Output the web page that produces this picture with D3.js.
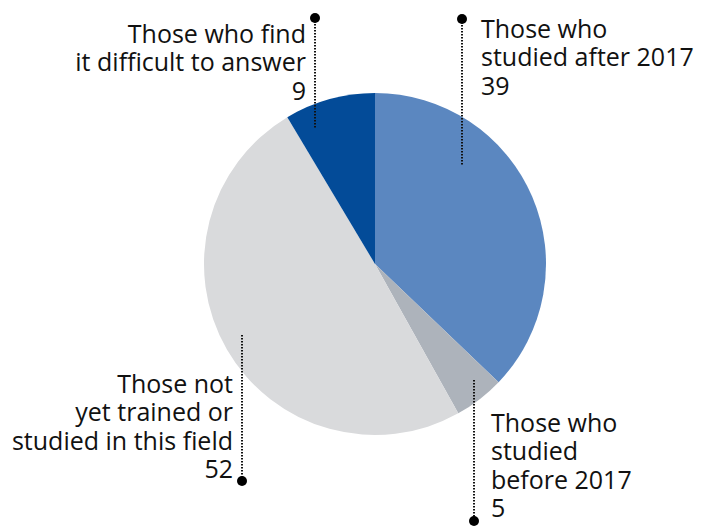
<!DOCTYPE html>
<html>
<head>
<meta charset="utf-8">
<script src="https://cdn.jsdelivr.net/npm/d3@7"></script>
<style>
  body { margin: 0; background: #fff; }
  text { font-family: "Open Sans", "Noto Sans", sans-serif; font-size: 25px; fill: #111; }
</style>
</head>
<body>
<script>
// slice data, clockwise from 12 o'clock
var categories = ["Those who studied after 2017", "Those who studied before 2017", "Those not yet trained or studied in this field", "Those who find it difficult to answer"];
var values = [39, 5, 52, 9];
var colors = ["#5b87c0", "#adb3bb", "#d9dadc", "#034b98"];
var labelLines = [
    ["Those who", "studied after 2017", "39"],
    ["Those who", "studied", "before 2017", "5"],
    ["Those not", "yet trained or", "studied in this field", "52"],
    ["Those who find", "it difficult to answer", "9"]
];

var width = 707, height = 526;
var cx = 375, cy = 264, radius = 171;

var svg = d3.select("body")
    .append("svg")
    .attr("width", width)
    .attr("height", height);

var pie = d3.pie()
    .sort(null)
    .value(function(d){ return d; });

var arc = d3.arc()
    .innerRadius(0)
    .outerRadius(radius);

var arcs = pie(values);

var g = svg.append("g")
    .attr("transform", "translate(" + cx + "," + cy + ")");

g.selectAll(".slice")
    .data(arcs)
    .enter()
    .append("path")
    .attr("class", "slice")
    .attr("d", arc)
    .style("fill", function(d, i){ return colors[i]; });

//leader lines: x, line top/bottom, dot at top or bottom
var leaders = [
    {x: 462, y1: 19, y2: 165, dotTop: true},
    {x: 474, y1: 380, y2: 521, dotTop: false},
    {x: 242, y1: 335, y2: 481, dotTop: false},
    {x: 315, y1: 18, y2: 129, dotTop: true}
];

//label anchors
var labels = [
    {x: 481, y: 38, anchor: "start"},
    {x: 491, y: 432, anchor: "start"},
    {x: 233, y: 393, anchor: "end"},
    {x: 306, y: 43, anchor: "end"}
];
var lineHeight = 28.3;

leaders.forEach(function(l){
    svg.append("line")
        .attr("x1", l.x).attr("x2", l.x)
        .attr("y1", l.y1).attr("y2", l.y2)
        .style("stroke", "#111")
        .style("stroke-width", 2)
        .style("stroke-dasharray", "1.5,1.5");
    svg.append("circle")
        .attr("cx", l.x)
        .attr("cy", l.dotTop ? l.y1 : l.y2)
        .attr("r", 5)
        .style("fill", "#000");
});

labels.forEach(function(lb, i){
    var t = svg.append("text")
        .attr("text-anchor", lb.anchor);
    labelLines[i].forEach(function(line, j){
        t.append("tspan")
            .attr("x", lb.x)
            .attr("y", lb.y + j * lineHeight)
            .text(line);
    });
});
</script>
</body>
</html>
